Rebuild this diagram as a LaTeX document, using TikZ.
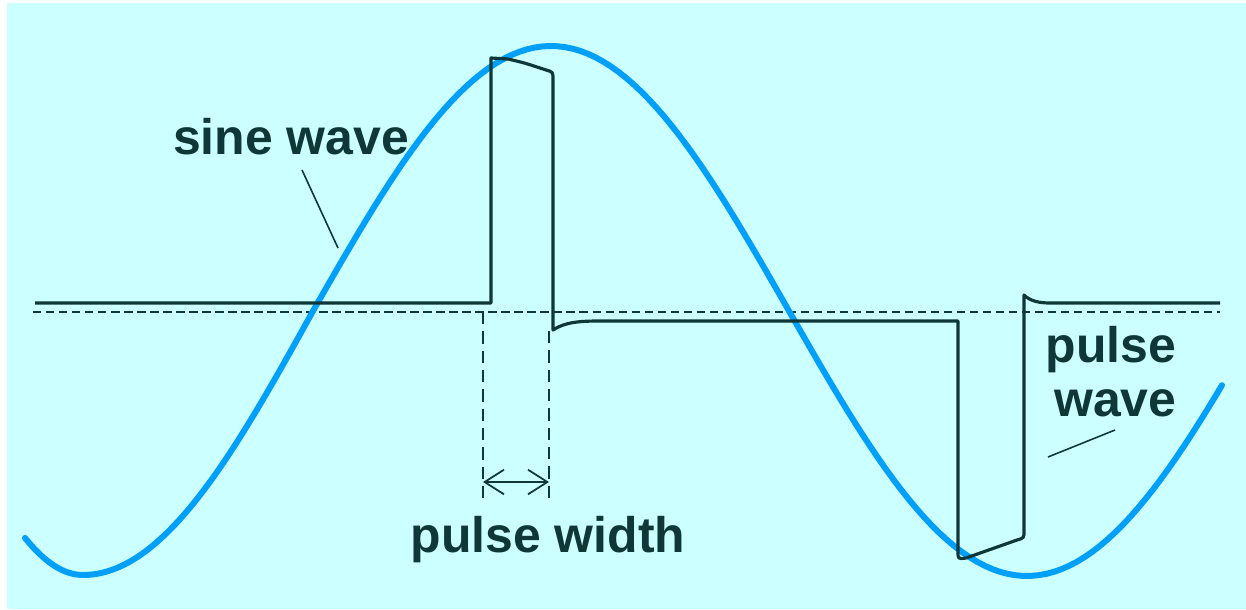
\documentclass[tikz,border=0pt]{standalone}
\usepackage{fontspec}
\setmainfont{Liberation Sans}
\usetikzlibrary{arrows.meta}
\definecolor{panelbg}{RGB}{204,255,255}
\definecolor{sineblue}{RGB}{0,160,250}
\definecolor{ink}{RGB}{15,55,55}
\begin{document}
\begin{tikzpicture}[x=0.01cm, y=-0.01cm,
	label/.style={text=ink, font=\fontsize{14.2}{15.6}\selectfont\bfseries, inner sep=0pt},
	sine/.style={sineblue, line width=1.7pt, line cap=round, line join=round},
	pulse/.style={ink, line width=0.9pt, line join=round},
	guide/.style={ink, line width=0.5pt, dash pattern=on 2.4pt off 1.3pt},
	leader/.style={ink, line width=0.45pt}]
	\useasboundingbox (0,0) rectangle (1246,609);
	\fill[panelbg] (7,3) rectangle (1246,609);
	% zero line
	\draw[guide] (33,312) -- (1220,312);
	% sine wave (left trough a little narrower)
	\draw[sine] plot[domain=25:313, samples=80]
		(\x, {311 + 264*cos(((\x<83) ? (0.53*(83-\x)) : (0.391304*(\x-83))))});
	\draw[sine] plot[domain=313:1222, samples=120] (\x, {311 - 265*sin(0.378151*(\x-313))});
	% pulse wave
	\draw[pulse] (35,303) -- (491,303) -- (491,58) -- (508,59)
		.. controls (525,63) .. (546,70) .. controls (553,72) .. (553,80)
		-- (553,330) .. controls (565,322) and (580,321) .. (600,321)
		-- (958,321) -- (958,552) .. controls (958,559) .. (966,558)
		-- (1017,540) .. controls (1024,538) .. (1024,531)
		-- (1024,295) .. controls (1030,301) and (1039,303) .. (1050,303)
		-- (1220,303);
	% pulse width marks
	\coordinate (pwL) at (483,482);
	\coordinate (pwR) at (549,482);
	\draw[guide, dash pattern=on 3.5pt off 2pt] (483,312) -- (483,500);
	\draw[guide, dash pattern=on 3.5pt off 2pt] (549,331) -- (549,500);
	\draw[ink, line width=0.5pt, {Straight Barb[length=5.5pt,width=7pt]}-{Straight Barb[length=5.5pt,width=7pt]}] (pwL) -- (pwR);
	% labels
	\node[label] (sinelbl) at (291,137) {sine wave};
	\node[label] (widthlbl) at (548,540) {pulse width};
	\node[label, align=right, anchor=north east] (pulselbl) at (1177,326) {pulse\\[-0.4pt]wave};
	\coordinate (sinetip) at (302,170);
	\coordinate (sineend) at (338,248);
	\coordinate (pulsetip) at (1115,430);
	\coordinate (pulseend) at (1048,457);
	\draw[leader] (sinetip) -- (sineend);
	\draw[leader] (pulsetip) -- (pulseend);
\end{tikzpicture}
\end{document}
